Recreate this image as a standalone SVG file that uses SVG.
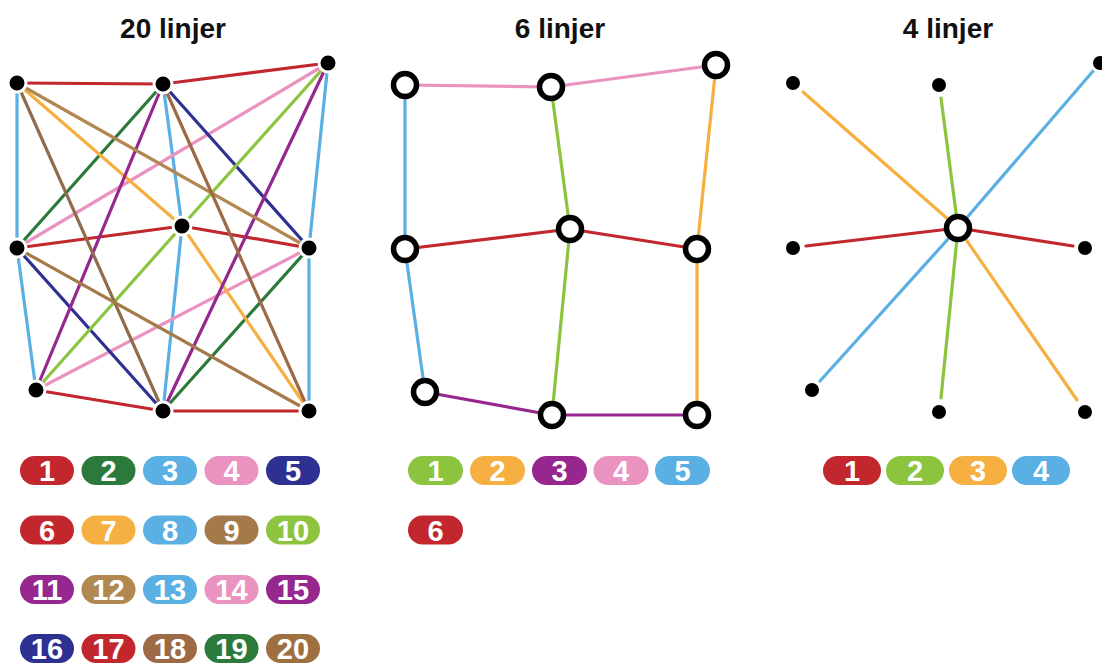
<svg xmlns="http://www.w3.org/2000/svg" width="1102" height="663" viewBox="0 0 1102 663">
<style>
.title{font-family:"Liberation Sans",Arial,sans-serif;font-weight:bold;font-size:28px;fill:#111;text-anchor:middle}
.ln{fill:none;stroke-width:3.2;stroke-linecap:round;stroke-linejoin:round}
.dot{fill:#000;stroke:#fff;stroke-width:3}
.st{fill:#fff;stroke:#000;stroke-width:5.5}
.pill text{font-family:"Liberation Sans",Arial,sans-serif;font-weight:bold;font-size:29px;fill:#fff;text-anchor:middle}
.red{stroke:#c1272d}.dgreen{stroke:#2b7a3b}.blue{stroke:#5aafe3}.pink{stroke:#ea92c0}.navy{stroke:#2e3192}
.orange{stroke:#f5b041}.lime{stroke:#8cc43f}.purple{stroke:#96278f}.brown1{stroke:#a57a4a}.brown2{stroke:#b08850}.brown3{stroke:#9c6a45}.brown4{stroke:#8e6c4c}
.fred{fill:#c1272d}.fdgreen{fill:#2b7a3b}.fblue{fill:#5aafe3}.fpink{fill:#ea92c0}.fnavy{fill:#2e3192}
.forange{fill:#f5b041}.flime{fill:#8cc43f}.fpurple{fill:#96278f}.fbrown1{fill:#a57a4a}.fbrown2{fill:#b08850}.fbrown3{fill:#9c6a45}.fbrown4{fill:#9e7040}
</style>
<rect width="1102" height="663" fill="#fff"/>
<text class="title" x="173" y="38">20 linjer</text>
<text class="title" x="560" y="38">6 linjer</text>
<text class="title" x="948" y="38">4 linjer</text>

<g id="connectors">
  <!-- 20 lines -->
  <polyline class="ln red" points="17,83 163,84 328,63"/>
  <polyline class="ln red" points="17,248 182,226 309,248"/>
  <polyline class="ln red" points="36,390 163,411 309,411"/>
  <polyline class="ln blue" points="17,83 17,248 36,390"/>
  <polyline class="ln blue" points="163,84 182,226 163,411"/>
  <polyline class="ln blue" points="328,63 309,248 309,411"/>
  <line class="ln dgreen" x1="163" y1="84" x2="17" y2="248"/>
  <line class="ln dgreen" x1="309" y1="248" x2="163" y2="411"/>
  <line class="ln pink" x1="328" y1="63" x2="17" y2="248"/>
  <line class="ln pink" x1="309" y1="248" x2="36" y2="390"/>
  <line class="ln navy" x1="163" y1="84" x2="309" y2="248"/>
  <line class="ln navy" x1="17" y1="248" x2="163" y2="411"/>
  <polyline class="ln orange" points="17,83 182,226 309,411"/>
  <polyline class="ln lime" points="328,63 182,226 36,390"/>
  <line class="ln purple" x1="163" y1="84" x2="36" y2="390"/>
  <line class="ln purple" x1="328" y1="63" x2="163" y2="411"/>
  <line class="ln brown4" x1="17" y1="83" x2="163" y2="411"/>
  <line class="ln brown2" x1="17" y1="83" x2="309" y2="248"/>
  <line class="ln brown3" x1="163" y1="84" x2="309" y2="411"/>
  <line class="ln brown1" x1="17" y1="248" x2="309" y2="411"/>
  <!-- 6 lines -->
  <polyline class="ln pink" points="405,85 551,87 716,65"/>
  <polyline class="ln blue" points="405,85 405,249 425,392"/>
  <polyline class="ln lime" points="551,87 570,229 552,415"/>
  <polyline class="ln orange" points="716,65 697,249 697,415"/>
  <polyline class="ln red" points="405,249 570,229 697,249"/>
  <polyline class="ln purple" points="425,392 552,415 697,415"/>
  <!-- 4 lines -->
  <polyline class="ln orange" points="803,92 958,228 1077,400"/>
  <polyline class="ln lime" points="941,98 958,228 941,398"/>
  <polyline class="ln blue" points="1094,70 958,228 820,381"/>
  <polyline class="ln red" points="806,246 958,228 1073,246"/>
</g>

<g id="graph20">
  <circle id="n20-a" class="dot" cx="17" cy="83" r="9"/>
  <circle id="n20-b" class="dot" cx="163" cy="84" r="9"/>
  <circle id="n20-c" class="dot" cx="328" cy="63" r="9"/>
  <circle id="n20-d" class="dot" cx="182" cy="226" r="9"/>
  <circle id="n20-e" class="dot" cx="17" cy="248" r="9"/>
  <circle id="n20-f" class="dot" cx="309" cy="248" r="9"/>
  <circle id="n20-g" class="dot" cx="36" cy="390" r="9"/>
  <circle id="n20-h" class="dot" cx="163" cy="411" r="9"/>
  <circle id="n20-i" class="dot" cx="309" cy="411" r="9"/>
</g>
<g id="graph6">
  <circle id="n6-a" class="st" cx="405" cy="85" r="11.5"/>
  <circle id="n6-b" class="st" cx="551" cy="87" r="11.5"/>
  <circle id="n6-c" class="st" cx="716" cy="65" r="11.5"/>
  <circle id="n6-d" class="st" cx="405" cy="249" r="11.5"/>
  <circle id="n6-e" class="st" cx="570" cy="229" r="11.5"/>
  <circle id="n6-f" class="st" cx="697" cy="249" r="11.5"/>
  <circle id="n6-g" class="st" cx="425" cy="392" r="11.5"/>
  <circle id="n6-h" class="st" cx="552" cy="415" r="11.5"/>
  <circle id="n6-i" class="st" cx="697" cy="415" r="11.5"/>
</g>
<g id="graph4">
  <circle id="n4-tl" class="dot" cx="793" cy="83" r="8.5"/>
  <circle id="n4-tm" class="dot" cx="939" cy="85" r="8.5"/>
  <circle id="n4-tr" class="dot" cx="1100" cy="63" r="8.5"/>
  <circle id="n4-ml" class="dot" cx="793" cy="248" r="8.5"/>
  <circle id="n4-mr" class="dot" cx="1085" cy="248" r="8.5"/>
  <circle id="n4-bl" class="dot" cx="812" cy="390" r="8.5"/>
  <circle id="n4-bm" class="dot" cx="939" cy="412" r="8.5"/>
  <circle id="n4-br" class="dot" cx="1085" cy="412" r="8.5"/>
  <circle id="n4-c" class="st" cx="958" cy="228" r="11.5"/>
</g>

<g id="legend20" class="pill">
  <rect class="fred" x="20" y="456" width="54" height="29" rx="14.5"/><text x="47" y="481">1</text>
  <rect class="fdgreen" x="81.5" y="456" width="54" height="29" rx="14.5"/><text x="108.5" y="481">2</text>
  <rect class="fblue" x="143" y="456" width="54" height="29" rx="14.5"/><text x="170" y="481">3</text>
  <rect class="fpink" x="204.5" y="456" width="54" height="29" rx="14.5"/><text x="231.5" y="481">4</text>
  <rect class="fnavy" x="266" y="456" width="54" height="29" rx="14.5"/><text x="293" y="481">5</text>

  <rect class="fred" x="20" y="515.5" width="54" height="29" rx="14.5"/><text x="47" y="540.5">6</text>
  <rect class="forange" x="81.5" y="515.5" width="54" height="29" rx="14.5"/><text x="108.5" y="540.5">7</text>
  <rect class="fblue" x="143" y="515.5" width="54" height="29" rx="14.5"/><text x="170" y="540.5">8</text>
  <rect class="fbrown1" x="204.5" y="515.5" width="54" height="29" rx="14.5"/><text x="231.5" y="540.5">9</text>
  <rect class="flime" x="266" y="515.5" width="54" height="29" rx="14.5"/><text x="293" y="540.5">10</text>

  <rect class="fpurple" x="20" y="575" width="54" height="29" rx="14.5"/><text x="47" y="600">11</text>
  <rect class="fbrown2" x="81.5" y="575" width="54" height="29" rx="14.5"/><text x="108.5" y="600">12</text>
  <rect class="fblue" x="143" y="575" width="54" height="29" rx="14.5"/><text x="170" y="600">13</text>
  <rect class="fpink" x="204.5" y="575" width="54" height="29" rx="14.5"/><text x="231.5" y="600">14</text>
  <rect class="fpurple" x="266" y="575" width="54" height="29" rx="14.5"/><text x="293" y="600">15</text>

  <rect class="fnavy" x="20" y="634" width="54" height="29" rx="14.5"/><text x="47" y="659">16</text>
  <rect class="fred" x="81.5" y="634" width="54" height="29" rx="14.5"/><text x="108.5" y="659">17</text>
  <rect class="fbrown3" x="143" y="634" width="54" height="29" rx="14.5"/><text x="170" y="659">18</text>
  <rect class="fdgreen" x="204.5" y="634" width="54" height="29" rx="14.5"/><text x="231.5" y="659">19</text>
  <rect class="fbrown4" x="266" y="634" width="54" height="29" rx="14.5"/><text x="293" y="659">20</text>
</g>

<g id="legend6" class="pill">
  <rect class="flime" x="408" y="456" width="55" height="29" rx="14.5"/><text x="435.5" y="481">1</text>
  <rect class="forange" x="470" y="456" width="55" height="29" rx="14.5"/><text x="497.5" y="481">2</text>
  <rect class="fpurple" x="532" y="456" width="55" height="29" rx="14.5"/><text x="559.5" y="481">3</text>
  <rect class="fpink" x="593.5" y="456" width="55" height="29" rx="14.5"/><text x="621" y="481">4</text>
  <rect class="fblue" x="655" y="456" width="55" height="29" rx="14.5"/><text x="682.5" y="481">5</text>
  <rect class="fred" x="408" y="515.5" width="55" height="29" rx="14.5"/><text x="435.5" y="540.5">6</text>
</g>

<g id="legend4" class="pill">
  <rect class="fred" x="823" y="456" width="58" height="29" rx="14.5"/><text x="852" y="481">1</text>
  <rect class="flime" x="886" y="456" width="58" height="29" rx="14.5"/><text x="915" y="481">2</text>
  <rect class="forange" x="949" y="456" width="58" height="29" rx="14.5"/><text x="978" y="481">3</text>
  <rect class="fblue" x="1012" y="456" width="58" height="29" rx="14.5"/><text x="1041" y="481">4</text>
</g>
</svg>
